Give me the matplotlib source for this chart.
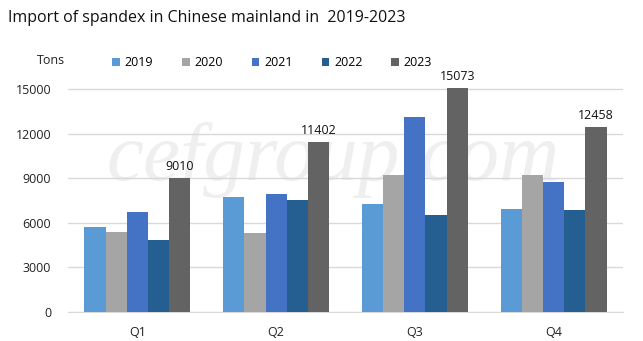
import matplotlib.pyplot as plt
import numpy as np

# ==== data ====
quarters = ["Q1", "Q2", "Q3", "Q4"]
years = ["2019", "2020", "2021", "2022", "2023"]
v2019 = [5720, 7730, 7260, 6930]
v2020 = [5380, 5310, 9210, 9210]
v2021 = [6725, 7935, 13110, 8740]
v2022 = [4840, 7530, 6520, 6860]
v2023 = [9010, 11402, 15073, 12458]
yticks = [0, 3000, 6000, 9000, 12000, 15000]

series = [v2019, v2020, v2021, v2022, v2023]
colors = ["#5B9BD5", "#A5A5A5", "#4472C4", "#255E91", "#636363"]

plt.rcParams['font.family'] = ['Open Sans', 'DejaVu Sans']

fig = plt.figure(figsize=(6.43, 3.41), dpi=100)
ax = fig.add_axes([68/643, 1 - 312/341, (623-68)/643, (312-89)/341 * 15300/15000])
ax.patch.set_alpha(0)

# watermark, behind the bars
ax.text(333/643, 1 - 160/341, "cefgroup.com", fontsize=60, family='Liberation Serif',
        style='italic', color='#EFEFEF', ha='center', va='center', zorder=1,
        transform=fig.transFigure)

x = np.arange(len(quarters))
w = 0.153
for i, (vals, c) in enumerate(zip(series, colors)):
    bars = ax.bar(x + (i - 2) * w, vals, w, color=c, label=years[i], zorder=3)
    if i == 4:
        for b, v in zip(bars, vals):
            ax.text(b.get_x() + b.get_width()/2, v + 350, str(v), ha='center',
                    va='bottom', fontsize=9, color='#111111', zorder=4)

ax.set_xlim(-0.5, 3.5)
ax.set_ylim(0, 15300)
ax.set_yticks(yticks)
ax.set_yticklabels([str(t) for t in yticks], fontsize=9, color='#222222')
ax.set_xticks(x)
ax.set_xticklabels(quarters, fontsize=9, color='#222222')
ax.tick_params(axis='y', length=0, pad=12)
ax.tick_params(axis='x', length=0, pad=10)
ax.yaxis.grid(True, color='#D9D9D9', linewidth=1, zorder=0)
for s in ['top', 'right', 'left']:
    ax.spines[s].set_visible(False)
ax.spines['bottom'].set_color('#D9D9D9')

fig.text(8/643, 1 - 18/341, "Import of spandex in Chinese mainland in  2019-2023",
         fontsize=11.5, color='#111111', va='center', ha='left')
fig.text(37/643, 1 - 61/341, "Tons", fontsize=9, color='#222222', va='center')

ax.legend(loc='upper left', bbox_to_anchor=(101/643, 1 - 45/341), bbox_transform=fig.transFigure,
          ncol=5, frameon=False, fontsize=9, handlelength=0.6, handleheight=0.6,
          columnspacing=2.3, handletextpad=0.4)

fig.savefig("out.png", dpi=100)
